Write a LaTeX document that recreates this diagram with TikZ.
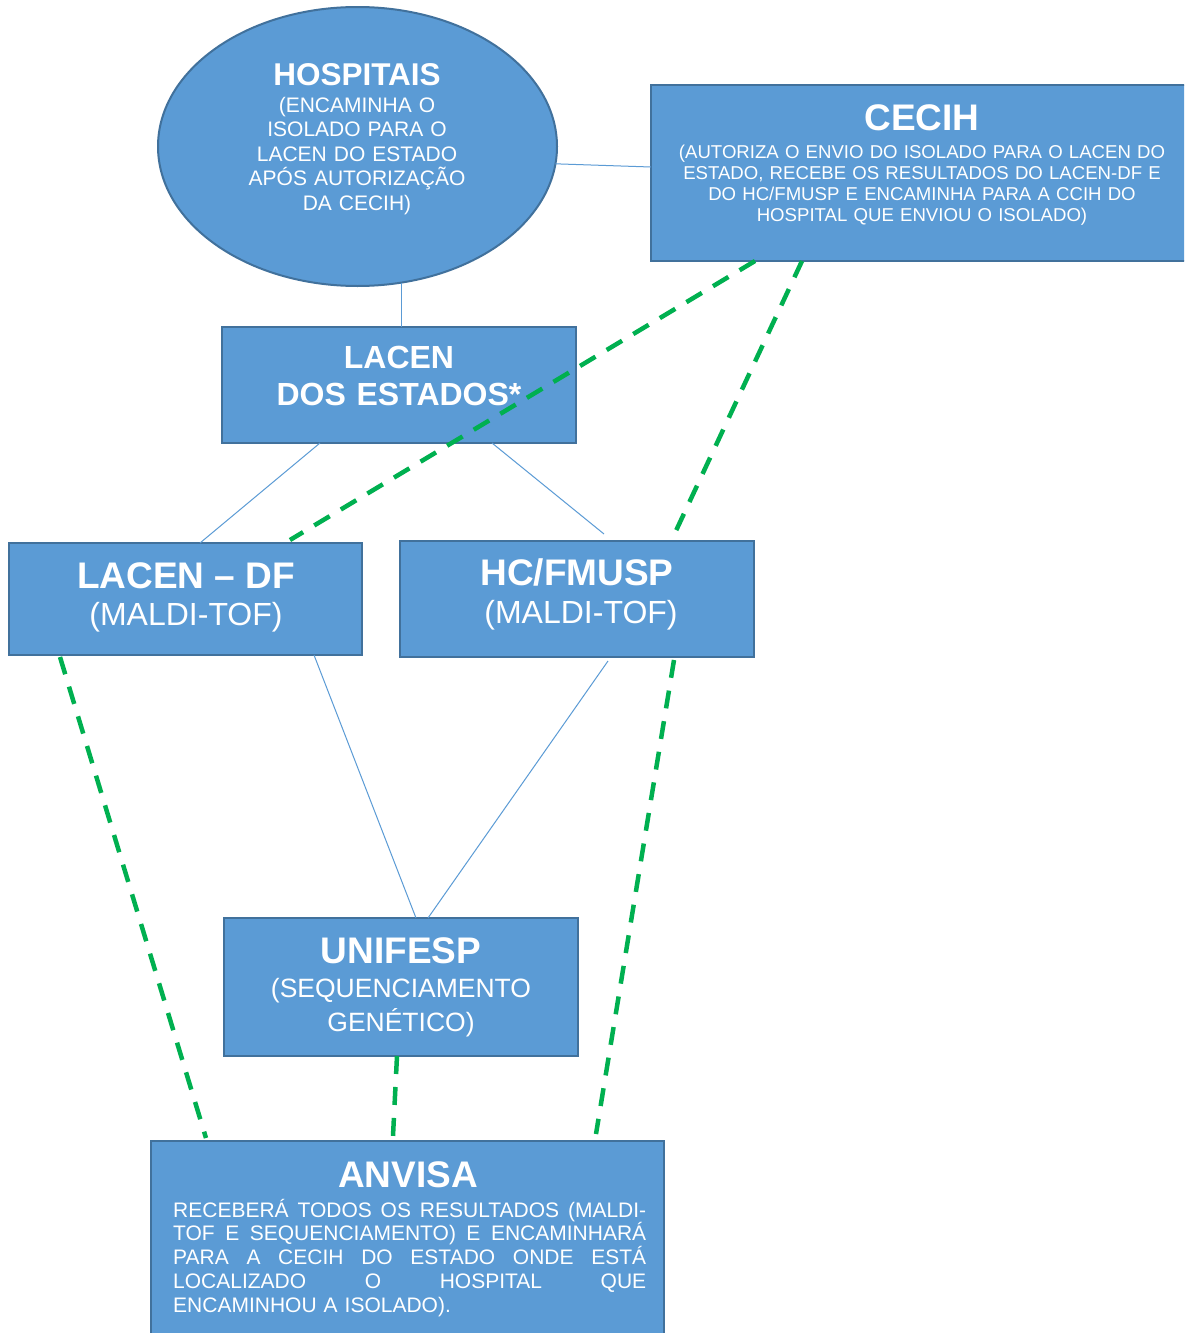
\documentclass[tikz,border=0pt]{standalone}
\usepackage{fontspec}
\setmainfont{Liberation Sans}
\usetikzlibrary{shapes.geometric}
\definecolor{boxblue}{HTML}{5B9BD5}
\definecolor{boxedge}{HTML}{41719C}
\definecolor{linkblue}{HTML}{5B9BD5}
\definecolor{routegreen}{HTML}{00B050}
\newcommand{\fsz}[2]{\fontsize{#1}{#2}\selectfont}
\tikzset{
  box/.style={draw=boxedge, fill=boxblue, line width=2.5pt, inner sep=0pt, outer sep=0pt},
  head/.style={text=white, inner sep=0pt, anchor=base, font=\fsz{37}{40}\bfseries},
  body/.style={text=white, inner sep=0pt, anchor=base, align=center},
  link/.style={draw=linkblue, line width=1pt},
  route/.style={draw=routegreen, line width=4.5pt, dash pattern=on 18pt off 13pt},
}
\begin{document}
\begin{tikzpicture}[x=1pt,y=-1pt]
      \clip (0,0) rectangle (1184,1333);
      \fill[white] (0,0) rectangle (1184,1333);

      \node[box, ellipse, line width=2pt, minimum width=399pt, minimum height=279pt] (hosp) at (357.5,146.5) {};
      \node[box, minimum width=549pt, minimum height=176pt] (cecih) at (925.5,173) {};
      \node[box, minimum width=354pt, minimum height=116pt] (lacen) at (399,385) {};
      \node[box, minimum width=353pt, minimum height=112pt] (df) at (185.5,599) {};
      \node[box, minimum width=354pt, minimum height=116pt] (hc) at (577,599) {};
      \node[box, minimum width=354pt, minimum height=138pt] (unifesp) at (401,987) {};
      \node[box, minimum width=513pt, minimum height=204pt] (anvisa) at (407.5,1243) {};

      \node[head, font=\fsz{31.5}{35}\bfseries] (hosptitle) at (357,85) {HOSPITAIS};
      \node[body, text width=260pt, font=\fsz{21}{24.5}] (hospbody) at (357,112)
        {(ENCAMINHA O\\ISOLADO PARA O\\LACEN DO ESTADO\\APÓS AUTORIZAÇÃO\\DA CECIH)};
      \node[head] (cecihtitle) at (922,130) {CECIH};
      \node[body, text width=500pt, font=\fsz{18.6}{21.3}] (cecihbody) at (922,158)
        {(AUTORIZA O ENVIO DO ISOLADO PARA O LACEN DO\\ESTADO, RECEBE OS RESULTADOS DO LACEN-DF E\\DO HC/FMUSP E ENCAMINHA PARA A CCIH DO\\HOSPITAL QUE ENVIOU O ISOLADO)};
      \node[body, text width=340pt, font=\fsz{32}{37}\bfseries] (lacentitle) at (399,368) {LACEN\\DOS ESTADOS*};
      \node[head] (dftitle) at (186,588) {LACEN – DF};
      \node[body, font=\fsz{32}{37}] (dfbody) at (186,625) {(MALDI-TOF)};
      \node[head] (hctitle) at (577,585) {HC/FMUSP};
      \node[body, font=\fsz{32}{37}] (hcbody) at (581,623) {(MALDI-TOF)};
      \node[head] (uniftitle) at (401,963) {UNIFESP};
      \node[body, text width=340pt, font=\fsz{26.5}{34}] (unifbody) at (401,997) {(SEQUENCIAMENTO\\GENÉTICO)};
      \node[head] (anvtitle) at (408,1187) {ANVISA};
      \node[body, anchor=base west, text width=473pt, align=left, font=\fsz{21}{23.75}] (anvbody) at (173,1217)
        {\makebox[473pt][l]{RECEBERÁ\hfill TODOS\hfill OS\hfill RESULTADOS\hfill (MALDI-}\\
         \makebox[473pt][l]{TOF\hfill E\hfill SEQUENCIAMENTO)\hfill E\hfill ENCAMINHARÁ}\\
         \makebox[473pt][l]{PARA\hfill A\hfill CECIH\hfill DO\hfill ESTADO\hfill ONDE\hfill ESTÁ}\\
         \makebox[473pt][l]{LOCALIZADO\hfill O\hfill HOSPITAL\hfill QUE}\\
         ENCAMINHOU A ISOLADO).};

      \draw[link] (hosp.-5) -- ([yshift=6pt]cecih.west);
      \draw[link] (hosp.-72) -- (hosp.-72 |- lacen.north);
      \draw[link] ([xshift=98pt]lacen.south west) -- ([xshift=191pt]df.north west);
      \draw[link] ([xshift=270pt]lacen.south west) -- ([xshift=204pt,yshift=7pt]hc.north west);
      \draw[link] ([xshift=305pt]df.south west) -- ([xshift=192pt]unifesp.north west);
      \draw[link] ([xshift=208pt,yshift=-4pt]hc.south west) -- ([xshift=204pt]unifesp.north west);

      \draw[route] ([xshift=104pt]cecih.south west) -- ([xshift=281pt,yshift=3pt]df.north west);
      \draw[route] ([xshift=151pt]cecih.south west) -- ([xshift=274pt,yshift=6pt]hc.north west);
      \draw[route] ([xshift=51pt,yshift=-2pt]df.south west) -- ([xshift=55pt,yshift=3pt]anvisa.north west);
      \draw[route] ([xshift=274pt,yshift=-3pt]hc.south west) -- ([xshift=445pt,yshift=7pt]anvisa.north west);
      \draw[route] ([xshift=173pt]unifesp.south west) -- ([xshift=242pt,yshift=5pt]anvisa.north west);
    \end{tikzpicture}
\end{document}
